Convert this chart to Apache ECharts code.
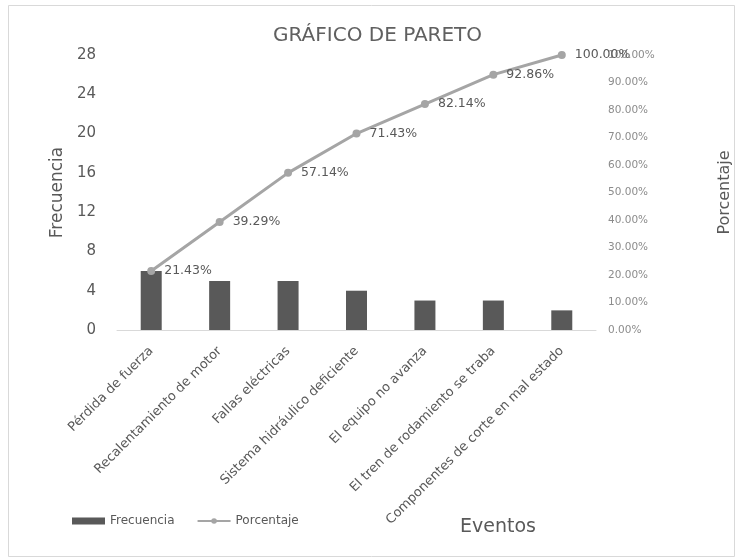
<!DOCTYPE html>
<html>
<head>
<meta charset="utf-8">
<script src="https://cdn.jsdelivr.net/npm/echarts@6/dist/echarts.min.js"></script>
<style>html,body{margin:0;padding:0;background:#fff}#c{width:736px;height:559px}</style>
</head>
<body>
<div id="c"></div>
<script>
var categories = ["Pérdida de fuerza","Recalentamiento de motor","Fallas eléctricas","Sistema hidráulico deficiente","El equipo no avanza","El tren de rodamiento se traba","Componentes de corte en mal estado"];
var frecuencia = [6,5,5,4,3,3,2];
var porcentaje = [21.43,39.29,57.14,71.43,82.14,92.86,100.00];
var leftTicks = {min:0,max:28,interval:4};
var rightTicks = {min:0,max:100,interval:10};

var FONT = 'DejaVu Sans';
var chart = echarts.init(document.getElementById('c'), null, {renderer:'canvas'});
chart.setOption({
  backgroundColor:'#fff',
  animation:false,
  textStyle:{fontFamily:FONT},
  graphic:[
    {type:'rect',shape:{x:8.5,y:5.5,width:726,height:551},style:{fill:'none',stroke:'#d9d9d9',lineWidth:1},silent:true},
    {type:'text',left:460,top:518,style:{text:'Eventos',font:'19px '+FONT,fill:'#595959'},silent:true}
  ],
  title:{text:'GRÁFICO DE PARETO',left:273,top:26,padding:0,
         textStyle:{fontFamily:FONT,fontSize:20,fontWeight:'normal',color:'#606060'}},
  legend:{left:72,top:515,itemWidth:33,itemHeight:7,itemGap:22,padding:0,
          textStyle:{fontFamily:FONT,fontSize:12,color:'#595959'},
          data:[{name:'Frecuencia',icon:'rect'},{name:'Porcentaje'}]},
  grid:{left:117,right:140,top:55,bottom:229,containLabel:false,outerBoundsMode:'none'},
  xAxis:{type:'category',data:categories,
    axisLine:{lineStyle:{color:'#d9d9d9',width:1}},axisTick:{show:false},
    axisLabel:{rotate:45,interval:0,fontSize:13,color:'#595959',margin:19,fontFamily:FONT}},
  yAxis:[
    {type:'value',min:leftTicks.min,max:leftTicks.max,interval:leftTicks.interval,
     name:'Frecuencia',nameLocation:'middle',nameGap:42,nameRotate:90,
     nameTextStyle:{fontFamily:FONT,fontSize:17,color:'#595959'},
     splitLine:{show:false},axisLine:{show:false},axisTick:{show:false},
     axisLabel:{fontSize:15,color:'#595959',margin:21,fontFamily:FONT}},
    {type:'value',min:rightTicks.min,max:rightTicks.max,interval:rightTicks.interval,
     name:'Porcentaje',nameLocation:'middle',nameGap:121,nameRotate:90,
     nameTextStyle:{fontFamily:FONT,fontSize:16,color:'#595959'},
     splitLine:{show:false},axisLine:{show:false},axisTick:{show:false},
     axisLabel:{fontSize:10.5,color:'#8c8c8c',margin:12,fontFamily:FONT,
       formatter:function(v){return v.toFixed(2)+'%';}}}
  ],
  series:[
    {name:'Frecuencia',type:'bar',data:frecuencia,barWidth:21,itemStyle:{color:'#595959'},yAxisIndex:0},
    {name:'Porcentaje',type:'line',data:porcentaje,yAxisIndex:1,
     symbol:'circle',symbolSize:8,lineStyle:{color:'#a5a5a5',width:3},itemStyle:{color:'#a5a5a5'},
     label:{show:true,position:'right',distance:9,fontSize:12.5,color:'#595959',fontFamily:FONT,
       formatter:function(p){return p.value.toFixed(2)+'%';}}}
  ]
});
</script>
</body>
</html>
